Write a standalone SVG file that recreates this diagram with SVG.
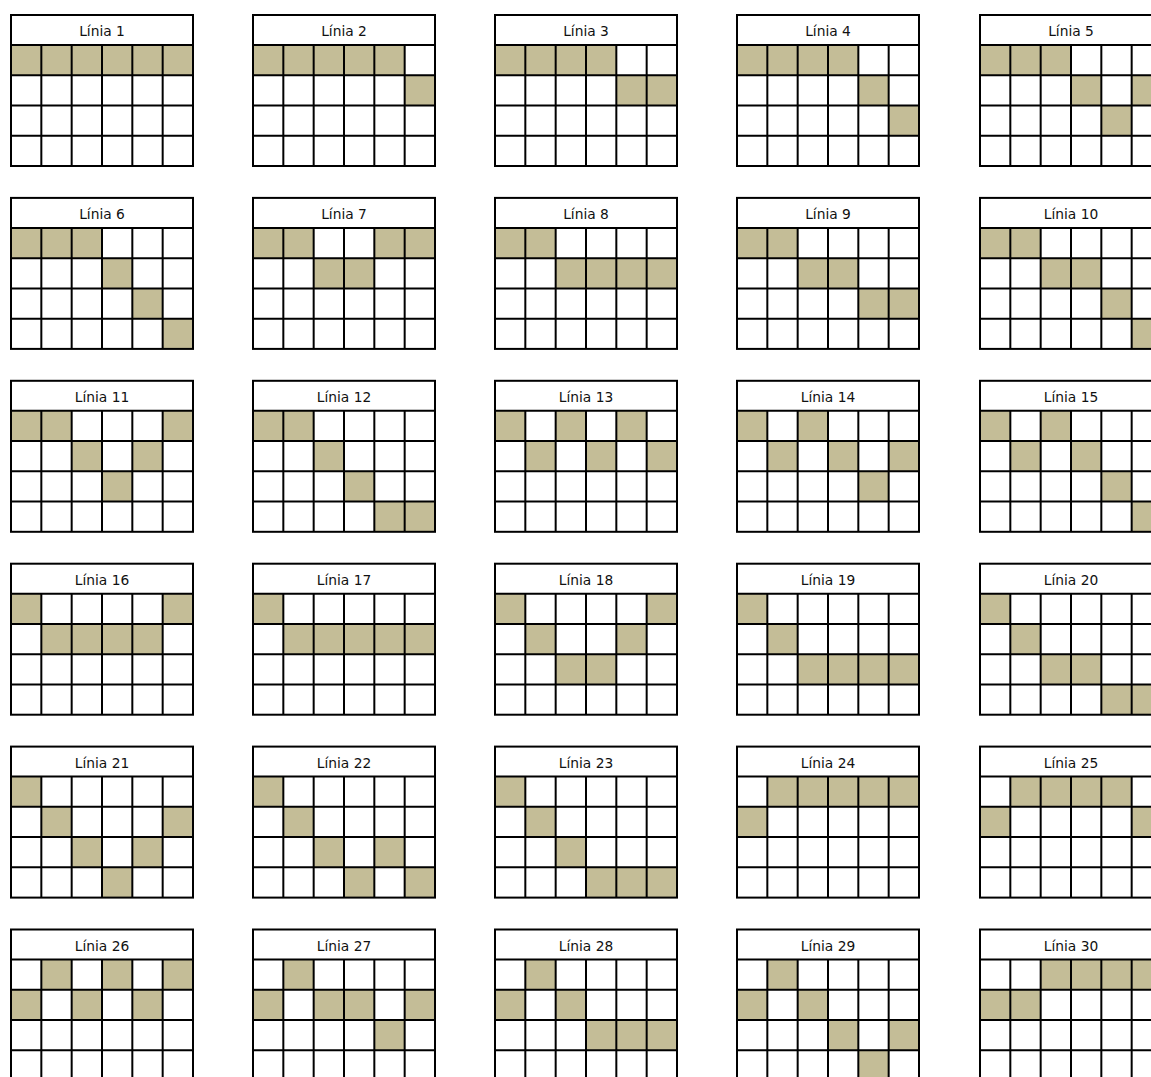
<svg xmlns="http://www.w3.org/2000/svg" xmlns:xlink="http://www.w3.org/1999/xlink" width="1151" height="1077" viewBox="0 0 1151 1077">
<style>
.bg{fill:#ffffff}
.title{fill:#ffffff}
.on{fill:#C4BD97}
.grid{fill:none;stroke:#000000;stroke-width:2}
text{font-family:"DejaVu Sans","Verdana",sans-serif;font-size:13.8px;fill:#111111;text-anchor:middle}
</style>
<defs>
<rect id="c" class="on" width="30.33" height="30.25"/>
<g id="grid" class="grid">
<rect x="0" y="0" width="182" height="151"/>
<path d="M0 30H182M0 60.25H182M0 90.5H182M0 120.75H182M30.33 30V151M60.67 30V151M91 30V151M121.33 30V151M151.67 30V151"/>
</g>
</defs>
<rect class="bg" x="0" y="0" width="1151" height="1077"/>

<g id="linia-1" transform="translate(11,15)"><text x="91" y="21">Línia 1</text>
<use href="#c" x="0" y="30"/><use href="#c" x="30.33" y="30"/><use href="#c" x="60.67" y="30"/><use href="#c" x="91" y="30"/><use href="#c" x="121.33" y="30"/><use href="#c" x="151.67" y="30"/><use href="#grid"/></g>
<g id="linia-2" transform="translate(253,15)"><text x="91" y="21">Línia 2</text>
<use href="#c" x="0" y="30"/><use href="#c" x="30.33" y="30"/><use href="#c" x="60.67" y="30"/><use href="#c" x="91" y="30"/><use href="#c" x="121.33" y="30"/><use href="#c" x="151.67" y="60.25"/><use href="#grid"/></g>
<g id="linia-3" transform="translate(495,15)"><text x="91" y="21">Línia 3</text>
<use href="#c" x="0" y="30"/><use href="#c" x="30.33" y="30"/><use href="#c" x="60.67" y="30"/><use href="#c" x="91" y="30"/><use href="#c" x="121.33" y="60.25"/><use href="#c" x="151.67" y="60.25"/><use href="#grid"/></g>
<g id="linia-4" transform="translate(737,15)"><text x="91" y="21">Línia 4</text>
<use href="#c" x="0" y="30"/><use href="#c" x="30.33" y="30"/><use href="#c" x="60.67" y="30"/><use href="#c" x="91" y="30"/><use href="#c" x="121.33" y="60.25"/><use href="#c" x="151.67" y="90.5"/><use href="#grid"/></g>
<g id="linia-5" transform="translate(980,15)"><text x="91" y="21">Línia 5</text>
<use href="#c" x="0" y="30"/><use href="#c" x="30.33" y="30"/><use href="#c" x="60.67" y="30"/><use href="#c" x="91" y="60.25"/><use href="#c" x="121.33" y="90.5"/><use href="#c" x="151.67" y="60.25"/><use href="#grid"/></g>

<g id="linia-6" transform="translate(11,197.9)"><text x="91" y="21">Línia 6</text>
<use href="#c" x="0" y="30"/><use href="#c" x="30.33" y="30"/><use href="#c" x="60.67" y="30"/><use href="#c" x="91" y="60.25"/><use href="#c" x="121.33" y="90.5"/><use href="#c" x="151.67" y="120.75"/><use href="#grid"/></g>
<g id="linia-7" transform="translate(253,197.9)"><text x="91" y="21">Línia 7</text>
<use href="#c" x="0" y="30"/><use href="#c" x="30.33" y="30"/><use href="#c" x="60.67" y="60.25"/><use href="#c" x="91" y="60.25"/><use href="#c" x="121.33" y="30"/><use href="#c" x="151.67" y="30"/><use href="#grid"/></g>
<g id="linia-8" transform="translate(495,197.9)"><text x="91" y="21">Línia 8</text>
<use href="#c" x="0" y="30"/><use href="#c" x="30.33" y="30"/><use href="#c" x="60.67" y="60.25"/><use href="#c" x="91" y="60.25"/><use href="#c" x="121.33" y="60.25"/><use href="#c" x="151.67" y="60.25"/><use href="#grid"/></g>
<g id="linia-9" transform="translate(737,197.9)"><text x="91" y="21">Línia 9</text>
<use href="#c" x="0" y="30"/><use href="#c" x="30.33" y="30"/><use href="#c" x="60.67" y="60.25"/><use href="#c" x="91" y="60.25"/><use href="#c" x="121.33" y="90.5"/><use href="#c" x="151.67" y="90.5"/><use href="#grid"/></g>
<g id="linia-10" transform="translate(980,197.9)"><text x="91" y="21">Línia 10</text>
<use href="#c" x="0" y="30"/><use href="#c" x="30.33" y="30"/><use href="#c" x="60.67" y="60.25"/><use href="#c" x="91" y="60.25"/><use href="#c" x="121.33" y="90.5"/><use href="#c" x="151.67" y="120.75"/><use href="#grid"/></g>

<g id="linia-11" transform="translate(11,380.8)"><text x="91" y="21">Línia 11</text>
<use href="#c" x="0" y="30"/><use href="#c" x="30.33" y="30"/><use href="#c" x="60.67" y="60.25"/><use href="#c" x="91" y="90.5"/><use href="#c" x="121.33" y="60.25"/><use href="#c" x="151.67" y="30"/><use href="#grid"/></g>
<g id="linia-12" transform="translate(253,380.8)"><text x="91" y="21">Línia 12</text>
<use href="#c" x="0" y="30"/><use href="#c" x="30.33" y="30"/><use href="#c" x="60.67" y="60.25"/><use href="#c" x="91" y="90.5"/><use href="#c" x="121.33" y="120.75"/><use href="#c" x="151.67" y="120.75"/><use href="#grid"/></g>
<g id="linia-13" transform="translate(495,380.8)"><text x="91" y="21">Línia 13</text>
<use href="#c" x="0" y="30"/><use href="#c" x="30.33" y="60.25"/><use href="#c" x="60.67" y="30"/><use href="#c" x="91" y="60.25"/><use href="#c" x="121.33" y="30"/><use href="#c" x="151.67" y="60.25"/><use href="#grid"/></g>
<g id="linia-14" transform="translate(737,380.8)"><text x="91" y="21">Línia 14</text>
<use href="#c" x="0" y="30"/><use href="#c" x="30.33" y="60.25"/><use href="#c" x="60.67" y="30"/><use href="#c" x="91" y="60.25"/><use href="#c" x="121.33" y="90.5"/><use href="#c" x="151.67" y="60.25"/><use href="#grid"/></g>
<g id="linia-15" transform="translate(980,380.8)"><text x="91" y="21">Línia 15</text>
<use href="#c" x="0" y="30"/><use href="#c" x="30.33" y="60.25"/><use href="#c" x="60.67" y="30"/><use href="#c" x="91" y="60.25"/><use href="#c" x="121.33" y="90.5"/><use href="#c" x="151.67" y="120.75"/><use href="#grid"/></g>

<g id="linia-16" transform="translate(11,563.7)"><text x="91" y="21">Línia 16</text>
<use href="#c" x="0" y="30"/><use href="#c" x="30.33" y="60.25"/><use href="#c" x="60.67" y="60.25"/><use href="#c" x="91" y="60.25"/><use href="#c" x="121.33" y="60.25"/><use href="#c" x="151.67" y="30"/><use href="#grid"/></g>
<g id="linia-17" transform="translate(253,563.7)"><text x="91" y="21">Línia 17</text>
<use href="#c" x="0" y="30"/><use href="#c" x="30.33" y="60.25"/><use href="#c" x="60.67" y="60.25"/><use href="#c" x="91" y="60.25"/><use href="#c" x="121.33" y="60.25"/><use href="#c" x="151.67" y="60.25"/><use href="#grid"/></g>
<g id="linia-18" transform="translate(495,563.7)"><text x="91" y="21">Línia 18</text>
<use href="#c" x="0" y="30"/><use href="#c" x="30.33" y="60.25"/><use href="#c" x="60.67" y="90.5"/><use href="#c" x="91" y="90.5"/><use href="#c" x="121.33" y="60.25"/><use href="#c" x="151.67" y="30"/><use href="#grid"/></g>
<g id="linia-19" transform="translate(737,563.7)"><text x="91" y="21">Línia 19</text>
<use href="#c" x="0" y="30"/><use href="#c" x="30.33" y="60.25"/><use href="#c" x="60.67" y="90.5"/><use href="#c" x="91" y="90.5"/><use href="#c" x="121.33" y="90.5"/><use href="#c" x="151.67" y="90.5"/><use href="#grid"/></g>
<g id="linia-20" transform="translate(980,563.7)"><text x="91" y="21">Línia 20</text>
<use href="#c" x="0" y="30"/><use href="#c" x="30.33" y="60.25"/><use href="#c" x="60.67" y="90.5"/><use href="#c" x="91" y="90.5"/><use href="#c" x="121.33" y="120.75"/><use href="#c" x="151.67" y="120.75"/><use href="#grid"/></g>

<g id="linia-21" transform="translate(11,746.6)"><text x="91" y="21">Línia 21</text>
<use href="#c" x="0" y="30"/><use href="#c" x="30.33" y="60.25"/><use href="#c" x="60.67" y="90.5"/><use href="#c" x="91" y="120.75"/><use href="#c" x="121.33" y="90.5"/><use href="#c" x="151.67" y="60.25"/><use href="#grid"/></g>
<g id="linia-22" transform="translate(253,746.6)"><text x="91" y="21">Línia 22</text>
<use href="#c" x="0" y="30"/><use href="#c" x="30.33" y="60.25"/><use href="#c" x="60.67" y="90.5"/><use href="#c" x="91" y="120.75"/><use href="#c" x="121.33" y="90.5"/><use href="#c" x="151.67" y="120.75"/><use href="#grid"/></g>
<g id="linia-23" transform="translate(495,746.6)"><text x="91" y="21">Línia 23</text>
<use href="#c" x="0" y="30"/><use href="#c" x="30.33" y="60.25"/><use href="#c" x="60.67" y="90.5"/><use href="#c" x="91" y="120.75"/><use href="#c" x="121.33" y="120.75"/><use href="#c" x="151.67" y="120.75"/><use href="#grid"/></g>
<g id="linia-24" transform="translate(737,746.6)"><text x="91" y="21">Línia 24</text>
<use href="#c" x="0" y="60.25"/><use href="#c" x="30.33" y="30"/><use href="#c" x="60.67" y="30"/><use href="#c" x="91" y="30"/><use href="#c" x="121.33" y="30"/><use href="#c" x="151.67" y="30"/><use href="#grid"/></g>
<g id="linia-25" transform="translate(980,746.6)"><text x="91" y="21">Línia 25</text>
<use href="#c" x="0" y="60.25"/><use href="#c" x="30.33" y="30"/><use href="#c" x="60.67" y="30"/><use href="#c" x="91" y="30"/><use href="#c" x="121.33" y="30"/><use href="#c" x="151.67" y="60.25"/><use href="#grid"/></g>

<g id="linia-26" transform="translate(11,929.5)"><text x="91" y="21">Línia 26</text>
<use href="#c" x="0" y="60.25"/><use href="#c" x="30.33" y="30"/><use href="#c" x="60.67" y="60.25"/><use href="#c" x="91" y="30"/><use href="#c" x="121.33" y="60.25"/><use href="#c" x="151.67" y="30"/><use href="#grid"/></g>
<g id="linia-27" transform="translate(253,929.5)"><text x="91" y="21">Línia 27</text>
<use href="#c" x="0" y="60.25"/><use href="#c" x="30.33" y="30"/><use href="#c" x="60.67" y="60.25"/><use href="#c" x="91" y="60.25"/><use href="#c" x="121.33" y="90.5"/><use href="#c" x="151.67" y="60.25"/><use href="#grid"/></g>
<g id="linia-28" transform="translate(495,929.5)"><text x="91" y="21">Línia 28</text>
<use href="#c" x="0" y="60.25"/><use href="#c" x="30.33" y="30"/><use href="#c" x="60.67" y="60.25"/><use href="#c" x="91" y="90.5"/><use href="#c" x="121.33" y="90.5"/><use href="#c" x="151.67" y="90.5"/><use href="#grid"/></g>
<g id="linia-29" transform="translate(737,929.5)"><text x="91" y="21">Línia 29</text>
<use href="#c" x="0" y="60.25"/><use href="#c" x="30.33" y="30"/><use href="#c" x="60.67" y="60.25"/><use href="#c" x="91" y="90.5"/><use href="#c" x="121.33" y="120.75"/><use href="#c" x="151.67" y="90.5"/><use href="#grid"/></g>
<g id="linia-30" transform="translate(980,929.5)"><text x="91" y="21">Línia 30</text>
<use href="#c" x="0" y="60.25"/><use href="#c" x="30.33" y="60.25"/><use href="#c" x="60.67" y="30"/><use href="#c" x="91" y="30"/><use href="#c" x="121.33" y="30"/><use href="#c" x="151.67" y="30"/><use href="#grid"/></g>
</svg>
